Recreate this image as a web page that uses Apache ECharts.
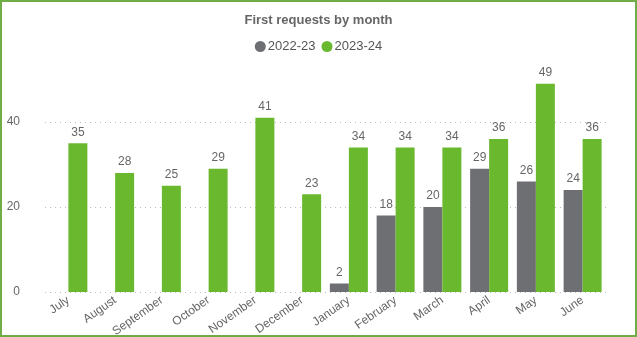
<!DOCTYPE html>
<html><head><meta charset="utf-8">
<script src="https://cdn.jsdelivr.net/npm/echarts@6/dist/echarts.min.js"></script>
<style>
html,body{margin:0;padding:0;background:#fff;}
#wrap{width:637px;height:337px;box-sizing:border-box;border:2px solid #70AD47;position:relative;overflow:hidden;}
#c{position:absolute;left:-2px;top:-2px;width:637px;height:337px;}
</style></head>
<body><div id="wrap"><div id="c"></div></div>
<script>
const categories = ['July','August','September','October','November','December','January','February','March','April','May','June'];
const series2022 = [null,null,null,null,null,null,2,18,20,29,26,24];
const series2023 = [35,28,25,29,41,23,34,34,34,36,49,36];
const yTicks = [0,20,40];

const chart = echarts.init(document.getElementById('c'), null, {renderer:'canvas'});
const lbl = {show:true, position:'top', color:'#666', fontSize:12, fontFamily:'Liberation Sans, Arial, sans-serif', distance:5};
chart.setOption({
  animation:false,
  title:{text:'First requests by month', left:'center', top:9,
    textStyle:{fontSize:13, fontWeight:'bold', color:'#666', fontFamily:'Liberation Sans Narrow, Liberation Sans, Arial, sans-serif'}},
  legend:{top:35, left:'center', icon:'circle', itemWidth:11, itemHeight:11, itemGap:6,
    textStyle:{fontSize:13, color:'#555', fontFamily:'Liberation Sans Narrow, Liberation Sans, Arial, sans-serif', padding:[0,0,0,-3]}},
  grid:{left:45, right:31, top:71, bottom:45, containLabel:false, outerBoundsMode:'none'},
  xAxis:{type:'category', data:categories,
    axisLine:{show:false}, axisTick:{show:false},
    axisLabel:{rotate:35, color:'#666', fontSize:12, margin:7, interval:0, fontFamily:'Liberation Sans, Arial, sans-serif'}},
  yAxis:{type:'value', min:0, max:52, interval:20,
    axisLine:{show:false}, axisTick:{show:false},
    axisLabel:{color:'#666', fontSize:12, margin:25, showMaxLabel:false, fontFamily:'Liberation Sans, Arial, sans-serif',
      formatter: v => yTicks.includes(v) ? String(v) : ''},
    splitLine:{showMaxLine:false, lineStyle:{type:[1,4], color:'#bbb', width:1}}},
  series:[
    {name:'2022-23', type:'bar', data:series2022, barWidth:19, barGap:'0%',
      itemStyle:{color:'#6E6F73'}, label:lbl},
    {name:'2023-24', type:'bar', data:series2023, barWidth:19, barGap:'0%',
      itemStyle:{color:'#6AB82E'}, label:lbl}
  ]
});
</script></body></html>
